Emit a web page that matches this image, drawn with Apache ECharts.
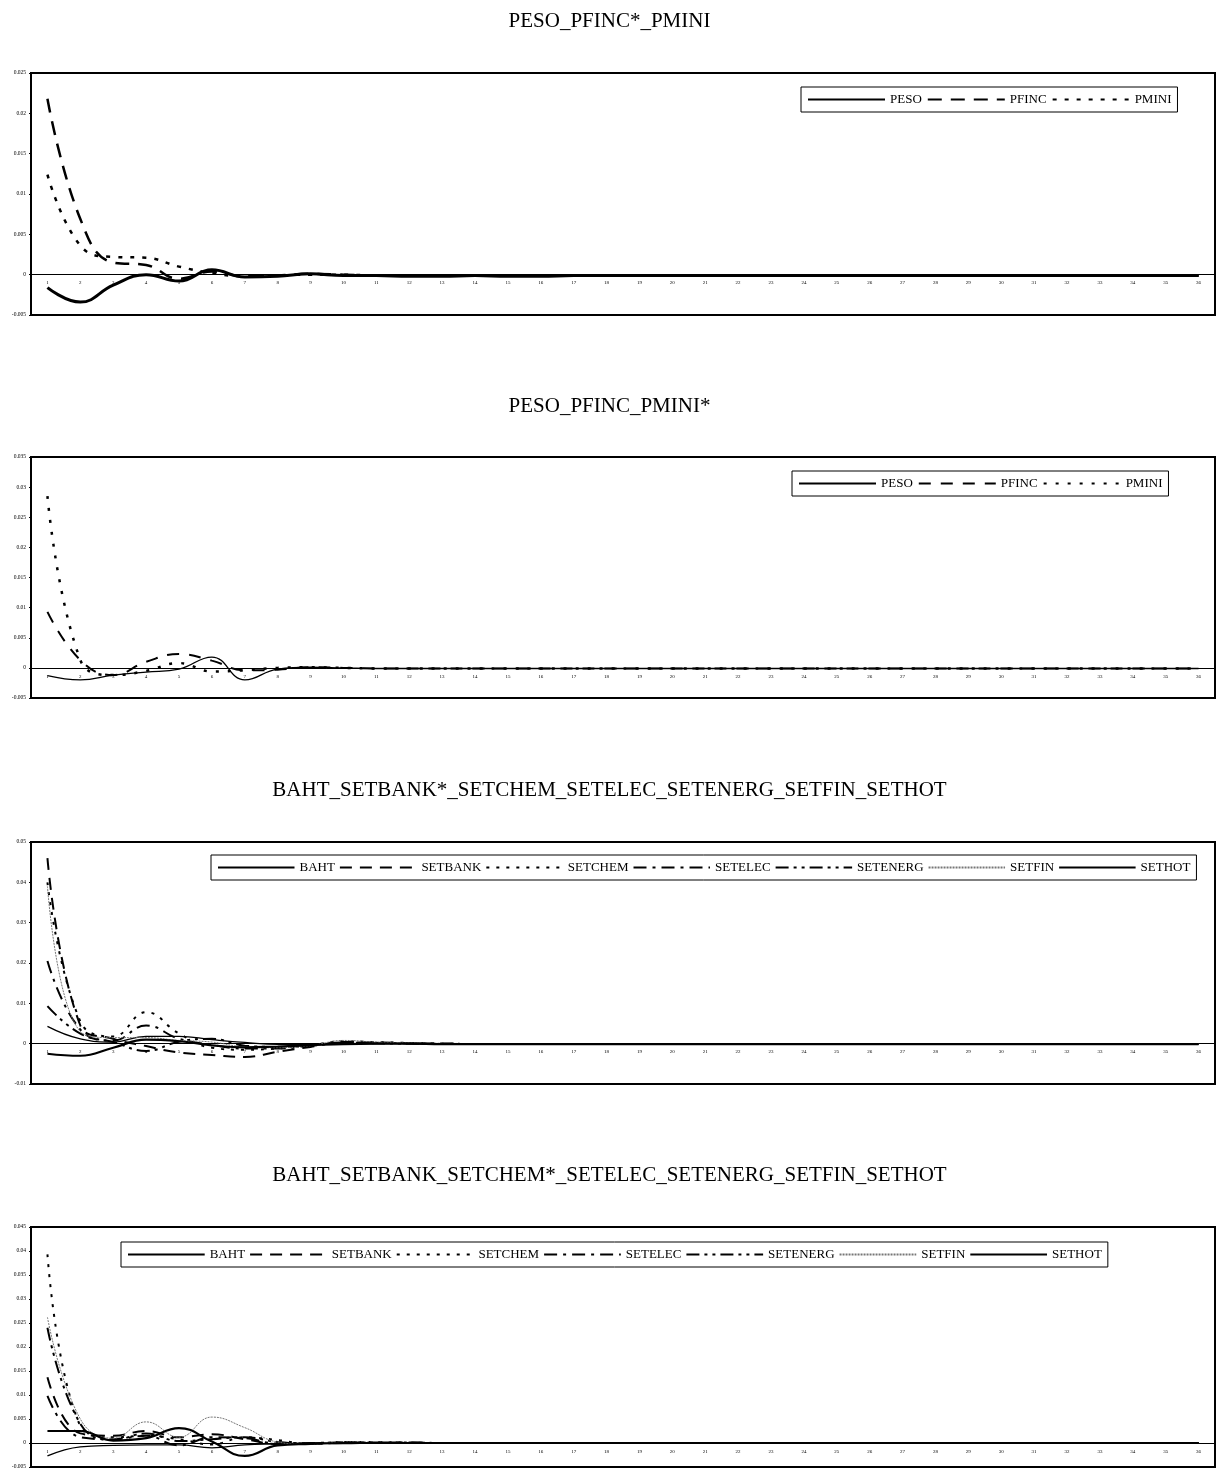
<!DOCTYPE html>
<html>
<head>
<meta charset="utf-8">
<script src="https://cdn.jsdelivr.net/npm/echarts@6/dist/echarts.min.js"></script>
<style>
  html, body { margin: 0; padding: 0; background: #fff; }
  .panel { position: absolute; left: 0; width: 1219px; }
</style>
</head>
<body>
<div id="p1" class="panel" style="top:0;height:385px"></div>
<div id="p2" class="panel" style="top:385px;height:385px"></div>
<div id="p3" class="panel" style="top:770px;height:385px"></div>
<div id="p4" class="panel" style="top:1155px;height:316px"></div>
<script>
// periods 1..36
const periods = [];
for (let i = 1; i <= 36; i++) periods.push(String(i));

// panel 1: PESO_PFINC*_PMINI
const peso1 = [-0.0016, -0.0034, -0.0013, 0.0000, -0.0008, 0.0006, -0.0003, -0.0002, 0.0001, -0.0001, -0.0001, -0.0002,
  -0.0002, -0.0001, -0.0002, -0.0002, -0.0001, -0.0001, -0.0001, -0.0001, -0.0001, -0.0001, -0.0001, -0.0001,
  -0.0001, -0.0001, -0.0001, -0.0001, -0.0001, -0.0001, -0.0001, -0.0001, -0.0001, -0.0001, -0.0001, -0.0001];
const pfinc1 = [0.0218, 0.0069, 0.0015, 0.0012, -0.0005, 0.0004, -0.0002, -0.0001, 0.0001, 0.0000, -0.0001, -0.0001,
  -0.0001, -0.0001, -0.0001, -0.0001, -0.0001, -0.0001, -0.0001, -0.0001, -0.0001, -0.0001, -0.0001, -0.0001,
  -0.0001, -0.0001, -0.0001, -0.0001, -0.0001, -0.0001, -0.0001, -0.0001, -0.0001, -0.0001, -0.0001, -0.0001];
const pmini1 = [0.0124, 0.0036, 0.0022, 0.0021, 0.0010, 0.0002, -0.0002, -0.0001, 0.0000, 0.0000, -0.0001, -0.0001,
  -0.0001, -0.0001, -0.0001, -0.0001, -0.0001, -0.0001, -0.0001, -0.0001, -0.0001, -0.0001, -0.0001, -0.0001,
  -0.0001, -0.0001, -0.0001, -0.0001, -0.0001, -0.0001, -0.0001, -0.0001, -0.0001, -0.0001, -0.0001, -0.0001];

// panel 2: PESO_PFINC_PMINI*
const peso2 = [-0.0013, -0.0020, -0.0012, -0.0007, -0.0002, 0.0018, -0.0020, -0.0002, 0.0001, 0.0000, -0.0001, -0.0001,
  -0.0001, -0.0001, -0.0001, -0.0001, -0.0001, -0.0001, -0.0001, -0.0001, -0.0001, -0.0001, -0.0001, -0.0001,
  -0.0001, -0.0001, -0.0001, -0.0001, -0.0001, -0.0001, -0.0001, -0.0001, -0.0001, -0.0001, -0.0001, -0.0001];
const pfinc2 = [0.0093, 0.0013, -0.0012, 0.0010, 0.0023, 0.0012, -0.0004, -0.0003, 0.0001, 0.0000, -0.0001, -0.0001,
  -0.0001, -0.0001, -0.0001, -0.0001, -0.0001, -0.0001, -0.0001, -0.0001, -0.0001, -0.0001, -0.0001, -0.0001,
  -0.0001, -0.0001, -0.0001, -0.0001, -0.0001, -0.0001, -0.0001, -0.0001, -0.0001, -0.0001, -0.0001, -0.0001];
const pmini2 = [0.0285, 0.0013, -0.0012, -0.0005, 0.0008, -0.0006, -0.0004, 0.0000, 0.0001, 0.0000, -0.0001, -0.0001,
  -0.0001, -0.0001, -0.0001, -0.0001, -0.0001, -0.0001, -0.0001, -0.0001, -0.0001, -0.0001, -0.0001, -0.0001,
  -0.0001, -0.0001, -0.0001, -0.0001, -0.0001, -0.0001, -0.0001, -0.0001, -0.0001, -0.0001, -0.0001, -0.0001];

// panel 3: BAHT_SETBANK*_...
const baht3 = [0.0043, 0.0012, 0.0004, 0.0018, 0.0018, 0.0010, 0.0003, -0.0002, -0.0002, 0.0000, 0.0000, 0.0000,
  -0.0001, -0.0001, -0.0001, -0.0001, -0.0001, -0.0001, -0.0001, -0.0001, -0.0001, -0.0001, -0.0001, -0.0001,
  -0.0001, -0.0001, -0.0001, -0.0001, -0.0001, -0.0001, -0.0001, -0.0001, -0.0001, -0.0001, -0.0001, -0.0001];
const setbank3 = [0.0460, 0.0045, 0.0012, -0.0006, -0.0022, -0.0028, -0.0033, -0.0020, -0.0008, 0.0004, 0.0003, 0.0001,
  0.0000, -0.0001, -0.0001, -0.0001, -0.0001, -0.0001, -0.0001, -0.0001, -0.0001, -0.0001, -0.0001, -0.0001,
  -0.0001, -0.0001, -0.0001, -0.0001, -0.0001, -0.0001, -0.0001, -0.0001, -0.0001, -0.0001, -0.0001, -0.0001];
const setchem3 = [0.0400, 0.0055, 0.0018, 0.0078, 0.0025, -0.0010, -0.0015, -0.0012, -0.0004, 0.0006, 0.0004, 0.0002,
  0.0000, -0.0001, -0.0001, -0.0001, -0.0001, -0.0001, -0.0001, -0.0001, -0.0001, -0.0001, -0.0001, -0.0001,
  -0.0001, -0.0001, -0.0001, -0.0001, -0.0001, -0.0001, -0.0001, -0.0001, -0.0001, -0.0001, -0.0001, -0.0001];
const setelec3 = [0.0205, 0.0035, 0.0008, 0.0045, 0.0012, -0.0003, -0.0012, -0.0012, -0.0004, 0.0003, 0.0002, 0.0001,
  0.0000, -0.0001, -0.0001, -0.0001, -0.0001, -0.0001, -0.0001, -0.0001, -0.0001, -0.0001, -0.0001, -0.0001,
  -0.0001, -0.0001, -0.0001, -0.0001, -0.0001, -0.0001, -0.0001, -0.0001, -0.0001, -0.0001, -0.0001, -0.0001];
const setenerg3 = [0.0093, 0.0025, 0.0004, -0.0018, 0.0005, 0.0012, -0.0005, -0.0008, -0.0005, 0.0002, 0.0001, 0.0000,
  0.0000, -0.0001, -0.0001, -0.0001, -0.0001, -0.0001, -0.0001, -0.0001, -0.0001, -0.0001, -0.0001, -0.0001,
  -0.0001, -0.0001, -0.0001, -0.0001, -0.0001, -0.0001, -0.0001, -0.0001, -0.0001, -0.0001, -0.0001, -0.0001];
const setfin3 = [0.0390, 0.0030, 0.0015, 0.0015, 0.0008, 0.0004, -0.0008, -0.0010, -0.0005, 0.0008, 0.0004, 0.0002,
  0.0001, 0.0000, -0.0001, -0.0001, -0.0001, -0.0001, -0.0001, -0.0001, -0.0001, -0.0001, -0.0001, -0.0001,
  -0.0001, -0.0001, -0.0001, -0.0001, -0.0001, -0.0001, -0.0001, -0.0001, -0.0001, -0.0001, -0.0001, -0.0001];
const sethot3 = [-0.0025, -0.0030, -0.0010, 0.0010, 0.0006, -0.0004, -0.0009, -0.0007, -0.0004, -0.0001, 0.0000, 0.0000,
  -0.0001, -0.0001, -0.0001, -0.0001, -0.0001, -0.0001, -0.0001, -0.0001, -0.0001, -0.0001, -0.0001, -0.0001,
  -0.0001, -0.0001, -0.0001, -0.0001, -0.0001, -0.0001, -0.0001, -0.0001, -0.0001, -0.0001, -0.0001, -0.0001];

// panel 4: BAHT_SETBANK_SETCHEM*_...
const baht4 = [-0.0027, -0.0008, -0.0005, -0.0004, -0.0004, -0.0010, -0.0004, -0.0002, 0.0000, -0.0001, 0.0000, 0.0000,
  0.0000, 0.0000, 0.0000, 0.0000, 0.0000, 0.0000, 0.0000, 0.0000, 0.0000, 0.0000, 0.0000, 0.0000,
  0.0000, 0.0000, 0.0000, 0.0000, 0.0000, 0.0000, 0.0000, 0.0000, 0.0000, 0.0000, 0.0000, 0.0000];
const setbank4 = [0.0137, 0.0020, 0.0015, 0.0025, 0.0012, 0.0018, 0.0008, -0.0002, -0.0002, 0.0001, 0.0001, 0.0001,
  0.0000, 0.0000, 0.0000, 0.0000, 0.0000, 0.0000, 0.0000, 0.0000, 0.0000, 0.0000, 0.0000, 0.0000,
  0.0000, 0.0000, 0.0000, 0.0000, 0.0000, 0.0000, 0.0000, 0.0000, 0.0000, 0.0000, 0.0000, 0.0000];
const setchem4 = [0.0393, 0.0035, 0.0012, 0.0015, 0.0008, -0.0003, 0.0012, 0.0006, -0.0002, 0.0001, 0.0002, 0.0001,
  0.0000, 0.0000, 0.0000, 0.0000, 0.0000, 0.0000, 0.0000, 0.0000, 0.0000, 0.0000, 0.0000, 0.0000,
  0.0000, 0.0000, 0.0000, 0.0000, 0.0000, 0.0000, 0.0000, 0.0000, 0.0000, 0.0000, 0.0000, 0.0000];
const setelec4 = [0.0098, 0.0012, 0.0008, 0.0015, -0.0005, 0.0012, 0.0010, -0.0001, 0.0000, 0.0001, 0.0000, 0.0000,
  0.0000, 0.0000, 0.0000, 0.0000, 0.0000, 0.0000, 0.0000, 0.0000, 0.0000, 0.0000, 0.0000, 0.0000,
  0.0000, 0.0000, 0.0000, 0.0000, 0.0000, 0.0000, 0.0000, 0.0000, 0.0000, 0.0000, 0.0000, 0.0000];
const setenerg4 = [0.0240, 0.0040, 0.0006, 0.0020, 0.0004, 0.0008, 0.0012, 0.0002, -0.0001, 0.0002, 0.0001, 0.0001,
  0.0000, 0.0000, 0.0000, 0.0000, 0.0000, 0.0000, 0.0000, 0.0000, 0.0000, 0.0000, 0.0000, 0.0000,
  0.0000, 0.0000, 0.0000, 0.0000, 0.0000, 0.0000, 0.0000, 0.0000, 0.0000, 0.0000, 0.0000, 0.0000];
const setfin4 = [0.0262, 0.0050, 0.0010, 0.0044, 0.0012, 0.0054, 0.0032, 0.0002, -0.0003, 0.0002, 0.0002, 0.0001,
  0.0000, 0.0000, 0.0000, 0.0000, 0.0000, 0.0000, 0.0000, 0.0000, 0.0000, 0.0000, 0.0000, 0.0000,
  0.0000, 0.0000, 0.0000, 0.0000, 0.0000, 0.0000, 0.0000, 0.0000, 0.0000, 0.0000, 0.0000, 0.0000];
const sethot4 = [0.0025, 0.0025, 0.0005, 0.0010, 0.0031, 0.0003, -0.0027, -0.0005, -0.0002, 0.0000, 0.0000, 0.0000,
  0.0000, 0.0000, 0.0000, 0.0000, 0.0000, 0.0000, 0.0000, 0.0000, 0.0000, 0.0000, 0.0000, 0.0000,
  0.0000, 0.0000, 0.0000, 0.0000, 0.0000, 0.0000, 0.0000, 0.0000, 0.0000, 0.0000, 0.0000, 0.0000];

// line looks, like the old spreadsheet print
const styles = {
  solidThick: { color: '#000', width: 3, type: 'solid' },
  solidThin: { color: '#000', width: 1.3, type: 'solid' },
  longDash: { color: '#000', width: 2.5, type: [14, 9] },
  dots: { color: '#000', width: 2.5, type: [4, 8] },
  dashDot: { color: '#000', width: 2, type: [13, 6, 3, 6] },
  dashDotDot: { color: '#000', width: 2, type: [13, 5, 3, 5, 3, 5] },
  grey: { color: '#777', width: 1, type: [2, 1] }
};

function makePanel(id, cfg) {
  const chart = echarts.init(document.getElementById(id));
  const font = 'Liberation Serif, Times New Roman, serif';
  // x axis sits on the zero line; push it up from the bottom edge
  const zeroOffset = -cfg.gridHeight * (0 - cfg.min) / (cfg.max - cfg.min);
  chart.setOption({
    animation: false,
    backgroundColor: '#fff',
    title: {
      text: cfg.title,
      left: 'center',
      top: cfg.titleTop,
      textStyle: { fontFamily: font, fontSize: 21, fontWeight: 'normal', color: '#000' }
    },
    legend: {
      data: cfg.series.map(s => s.name),
      left: cfg.legendLeft,
      top: cfg.legendTop,
      orient: 'horizontal',
      padding: [6, 6],
      itemGap: cfg.itemGap,
      itemWidth: cfg.itemWidth,
      itemHeight: 14,
      borderColor: '#000',
      borderWidth: 1,
      backgroundColor: '#fff',
      itemStyle: { opacity: 0, borderWidth: 0 },
      textStyle: { fontFamily: font, fontSize: 13, color: '#000' }
    },
    grid: {
      left: 31, right: 4, top: cfg.gridTop, height: cfg.gridHeight,
      show: true, borderColor: '#000', borderWidth: 2, backgroundColor: '#fff'
    },
    xAxis: {
      type: 'category',
      data: periods,
      boundaryGap: true,
      offset: zeroOffset,
      axisLine: { onZero: false, lineStyle: { color: '#000', width: 1 } },
      axisTick: { show: false },
      axisLabel: { interval: 0, fontSize: 5, color: '#000', margin: 6, fontFamily: font }
    },
    yAxis: {
      type: 'value',
      min: cfg.min, max: cfg.max, interval: cfg.interval,
      splitLine: { show: false },
      axisLine: { show: true, lineStyle: { color: '#000', width: 2 } },
      axisTick: { show: true, length: 2, lineStyle: { color: '#000' } },
      axisLabel: { fontSize: 5.5, color: '#000', margin: 5, fontFamily: font }
    },
    series: cfg.series.map(s => ({
      name: s.name,
      type: 'line',
      data: s.data,
      smooth: 0.45,
      symbol: 'none',
      lineStyle: s.style
    }))
  });
}

makePanel('p1', {
  title: 'PESO_PFINC*_PMINI', titleTop: 6,
  gridTop: 73, gridHeight: 242,
  min: -0.005, max: 0.025, interval: 0.005,
  legendLeft: 801, legendTop: 87, itemWidth: 77, itemGap: 5,
  series: [
    { name: 'PESO', data: peso1, style: styles.solidThick },
    { name: 'PFINC', data: pfinc1, style: styles.longDash },
    { name: 'PMINI', data: pmini1, style: styles.dots }
  ]
});

makePanel('p2', {
  title: 'PESO_PFINC_PMINI*', titleTop: 6,
  gridTop: 72, gridHeight: 241,
  min: -0.005, max: 0.035, interval: 0.005,
  legendLeft: 792, legendTop: 86, itemWidth: 77, itemGap: 5,
  series: [
    { name: 'PESO', data: peso2, style: styles.solidThin },
    { name: 'PFINC', data: pfinc2, style: { color: '#000', width: 2, type: [12, 10] } },
    { name: 'PMINI', data: pmini2, style: { color: '#000', width: 2.5, type: [3, 9] } }
  ]
});

makePanel('p3', {
  title: 'BAHT_SETBANK*_SETCHEM_SETELEC_SETENERG_SETFIN_SETHOT', titleTop: 5,
  gridTop: 72, gridHeight: 242,
  min: -0.01, max: 0.05, interval: 0.01,
  legendLeft: 211, legendTop: 85, itemWidth: 76.5, itemGap: 4,
  series: [
    { name: 'BAHT', data: baht3, style: styles.solidThin },
    { name: 'SETBANK', data: setbank3, style: { color: '#000', width: 2, type: [12, 8] } },
    { name: 'SETCHEM', data: setchem3, style: { color: '#000', width: 2, type: [3, 7] } },
    { name: 'SETELEC', data: setelec3, style: styles.dashDot },
    { name: 'SETENERG', data: setenerg3, style: styles.dashDotDot },
    { name: 'SETFIN', data: setfin3, style: styles.grey },
    { name: 'SETHOT', data: sethot3, style: { color: '#000', width: 2.2, type: 'solid' } }
  ]
});

makePanel('p4', {
  title: 'BAHT_SETBANK_SETCHEM*_SETELEC_SETENERG_SETFIN_SETHOT', titleTop: 5,
  gridTop: 72, gridHeight: 240,
  min: -0.005, max: 0.045, interval: 0.005,
  legendLeft: 121, legendTop: 87, itemWidth: 76.7, itemGap: 4,
  series: [
    { name: 'BAHT', data: baht4, style: styles.solidThin },
    { name: 'SETBANK', data: setbank4, style: { color: '#000', width: 2, type: [12, 8] } },
    { name: 'SETCHEM', data: setchem4, style: { color: '#000', width: 2, type: [3, 7] } },
    { name: 'SETELEC', data: setelec4, style: styles.dashDot },
    { name: 'SETENERG', data: setenerg4, style: styles.dashDotDot },
    { name: 'SETFIN', data: setfin4, style: styles.grey },
    { name: 'SETHOT', data: sethot4, style: { color: '#000', width: 2.2, type: 'solid' } }
  ]
});
</script>
</body>
</html>
